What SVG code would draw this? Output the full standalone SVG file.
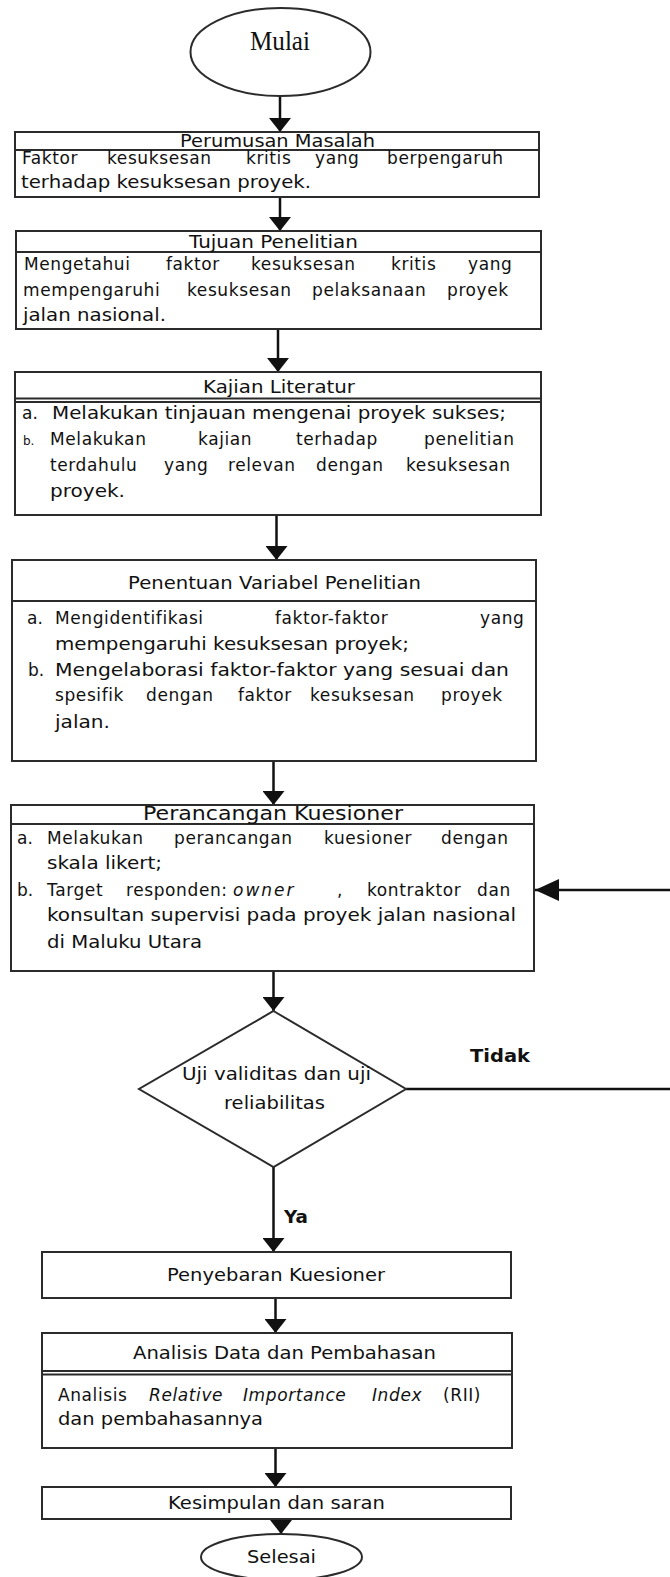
<svg xmlns="http://www.w3.org/2000/svg" width="670" height="1577" viewBox="0 0 670 1577">
<style>
.sh{fill:#fff;stroke:#2b2b2b;stroke-width:2}
.hl{stroke:#2b2b2b;stroke-width:2;fill:none}
.t{font-family:"DejaVu Sans",Verdana,sans-serif;font-size:17px;fill:#111}
.h{font-size:17px;text-anchor:middle}
.j{letter-spacing:0.6px}
.it{font-style:italic}
.bd{font-weight:bold;font-size:17px}
.serif{font-family:"Liberation Serif","Times New Roman",serif;font-size:27px;fill:#111;text-anchor:middle}
.cn line{stroke:#111;stroke-width:2.5}
</style>
<defs>
<marker id="ad" markerUnits="userSpaceOnUse" markerWidth="16" markerHeight="22" refX="14" refY="11" orient="auto"><path d="M0,0 L14,11 L0,22 z" fill="#111"/></marker>
<marker id="al" markerUnits="userSpaceOnUse" markerWidth="26" markerHeight="22" refX="24" refY="11" orient="auto"><path d="M0,0 L24,11 L0,22 z" fill="#111"/></marker>
</defs>
<rect width="670" height="1577" fill="#fff"/>

<g class="cn">
<line x1="280" y1="96" x2="280" y2="132" marker-end="url(#ad)"/>
<line x1="280" y1="197" x2="280" y2="231" marker-end="url(#ad)"/>
<line x1="278" y1="329" x2="278" y2="372" marker-end="url(#ad)"/>
<line x1="276.5" y1="515" x2="276.5" y2="560" marker-end="url(#ad)"/>
<line x1="273.5" y1="761" x2="273.5" y2="805" marker-end="url(#ad)"/>
<line x1="273.5" y1="971" x2="273.5" y2="1011" marker-end="url(#ad)"/>
<line x1="406" y1="1089" x2="670" y2="1089"/>
<line x1="670" y1="890" x2="535" y2="890" marker-end="url(#al)"/>
<line x1="273.5" y1="1167" x2="273.5" y2="1252" marker-end="url(#ad)"/>
<line x1="275.5" y1="1298" x2="275.5" y2="1333" marker-end="url(#ad)"/>
<line x1="275.5" y1="1448" x2="275.5" y2="1487" marker-end="url(#ad)"/>
<line x1="281" y1="1519" x2="281" y2="1534" marker-end="url(#ad)"/>
<text class="t bd" x="470" y="1062" textLength="60" lengthAdjust="spacingAndGlyphs">Tidak</text>
<text class="t bd" x="284" y="1223" textLength="24" lengthAdjust="spacingAndGlyphs">Ya</text>
</g>

<g id="mulai">
<ellipse class="sh" cx="280.5" cy="52" rx="90" ry="44"/>
<text class="serif" x="280" y="50" textLength="60" lengthAdjust="spacingAndGlyphs">Mulai</text>
</g>

<g id="perumusan">
<rect class="sh" x="15" y="132" width="524" height="65"/>
<line class="hl" x1="15" y1="150" x2="539" y2="150" stroke-width="2.5"/>
<text class="t h" x="277.5" y="147" textLength="195" lengthAdjust="spacingAndGlyphs">Perumusan Masalah</text>
<text class="t j" y="164"><tspan x="22">Faktor</tspan><tspan x="107">kesuksesan</tspan><tspan x="246">kritis</tspan><tspan x="315">yang</tspan><tspan x="387">berpengaruh</tspan></text>
<text class="t" x="21" y="188" textLength="290" lengthAdjust="spacingAndGlyphs">terhadap kesuksesan proyek.</text>
</g>

<g id="tujuan">
<rect class="sh" x="16" y="231" width="525" height="98"/>
<line class="hl" x1="16" y1="252" x2="541" y2="252" stroke-width="2.5"/>
<text class="t h" x="273.5" y="248" textLength="169" lengthAdjust="spacingAndGlyphs">Tujuan Penelitian</text>
<text class="t j" y="270"><tspan x="24">Mengetahui</tspan><tspan x="166">faktor</tspan><tspan x="251">kesuksesan</tspan><tspan x="391">kritis</tspan><tspan x="468">yang</tspan></text>
<text class="t j" y="296"><tspan x="23">mempengaruhi</tspan><tspan x="187">kesuksesan</tspan><tspan x="312">pelaksanaan</tspan><tspan x="447">proyek</tspan></text>
<text class="t" x="23" y="321" textLength="143" lengthAdjust="spacingAndGlyphs">jalan nasional.</text>
</g>

<g id="kajian">
<rect class="sh" x="15" y="372" width="526" height="143"/>
<line class="hl" x1="15" y1="398.5" x2="541" y2="398.5" stroke-width="1.5"/>
<line class="hl" x1="15" y1="402" x2="541" y2="402" stroke-width="1.5"/>
<text class="t h" x="279" y="393" textLength="152" lengthAdjust="spacingAndGlyphs">Kajian Literatur</text>
<text class="t" x="22" y="419">a.</text>
<text class="t" x="52" y="419" textLength="454" lengthAdjust="spacingAndGlyphs">Melakukan tinjauan mengenai proyek sukses;</text>
<text class="t" x="23" y="445" style="font-size:12px">b.</text>
<text class="t j" y="445"><tspan x="50">Melakukan</tspan><tspan x="198">kajian</tspan><tspan x="296">terhadap</tspan><tspan x="424">penelitian</tspan></text>
<text class="t j" y="471"><tspan x="50">terdahulu</tspan><tspan x="164">yang</tspan><tspan x="228">relevan</tspan><tspan x="316">dengan</tspan><tspan x="406">kesuksesan</tspan></text>
<text class="t" x="50" y="497" textLength="75" lengthAdjust="spacingAndGlyphs">proyek.</text>
</g>

<g id="penentuan">
<rect class="sh" x="12" y="560" width="524" height="201"/>
<line class="hl" x1="12" y1="601" x2="536" y2="601" stroke-width="2.5"/>
<text class="t h" x="274.5" y="589" textLength="293" lengthAdjust="spacingAndGlyphs">Penentuan Variabel Penelitian</text>
<text class="t" x="27" y="624">a.</text>
<text class="t j" y="624"><tspan x="55">Mengidentifikasi</tspan><tspan x="275">faktor-faktor</tspan><tspan x="480">yang</tspan></text>
<text class="t" x="55" y="650" textLength="354" lengthAdjust="spacingAndGlyphs">mempengaruhi kesuksesan proyek;</text>
<text class="t" x="28" y="676">b.</text>
<text class="t" x="55" y="676" textLength="454" lengthAdjust="spacingAndGlyphs">Mengelaborasi faktor-faktor yang sesuai dan</text>
<text class="t j" y="701"><tspan x="55">spesifik</tspan><tspan x="146">dengan</tspan><tspan x="238">faktor</tspan><tspan x="310">kesuksesan</tspan><tspan x="441">proyek</tspan></text>
<text class="t" x="55" y="728" textLength="55" lengthAdjust="spacingAndGlyphs">jalan.</text>
</g>

<g id="perancangan">
<rect class="sh" x="11" y="805" width="523" height="166"/>
<line class="hl" x1="11" y1="824" x2="534" y2="824" stroke-width="2.5"/>
<text class="t h" x="273" y="820" style="font-size:19px" textLength="260" lengthAdjust="spacingAndGlyphs">Perancangan Kuesioner</text>
<text class="t" x="17" y="844">a.</text>
<text class="t j" y="844"><tspan x="47">Melakukan</tspan><tspan x="174">perancangan</tspan><tspan x="324">kuesioner</tspan><tspan x="441">dengan</tspan></text>
<text class="t" x="47" y="869" textLength="115" lengthAdjust="spacingAndGlyphs">skala likert;</text>
<text class="t" x="17" y="896">b.</text>
<text class="t j" y="896"><tspan x="47">Target</tspan><tspan x="126">responden:</tspan><tspan x="233" class="it" style="letter-spacing:2px">owner</tspan><tspan x="337">,</tspan><tspan x="367">kontraktor</tspan><tspan x="477">dan</tspan></text>
<text class="t" x="47" y="921" textLength="469" lengthAdjust="spacingAndGlyphs">konsultan supervisi pada proyek jalan nasional</text>
<text class="t" x="47" y="948" textLength="155" lengthAdjust="spacingAndGlyphs">di Maluku Utara</text>
</g>

<g id="uji">
<polygon class="sh" points="273.5,1011 406,1089 273.5,1167 139,1089"/>
<text class="t h" x="276.5" y="1080" textLength="189" lengthAdjust="spacingAndGlyphs">Uji validitas dan uji</text>
<text class="t h" x="274.5" y="1109" textLength="101" lengthAdjust="spacingAndGlyphs">reliabilitas</text>
</g>

<g id="penyebaran">
<rect class="sh" x="42" y="1252" width="469" height="46"/>
<text class="t h" x="276" y="1281" textLength="218" lengthAdjust="spacingAndGlyphs">Penyebaran Kuesioner</text>
</g>

<g id="analisis">
<rect class="sh" x="42" y="1333" width="470" height="115"/>
<line class="hl" x1="42" y1="1371" x2="512" y2="1371" stroke-width="1.5"/>
<line class="hl" x1="42" y1="1374.5" x2="512" y2="1374.5" stroke-width="1.5"/>
<text class="t h" x="284.5" y="1359" textLength="303" lengthAdjust="spacingAndGlyphs">Analisis Data dan Pembahasan</text>
<text class="t j" y="1401"><tspan x="58">Analisis</tspan><tspan x="149" class="it">Relative</tspan><tspan x="243" class="it">Importance</tspan><tspan x="372" class="it">Index</tspan><tspan x="443">(RII)</tspan></text>
<text class="t" x="58" y="1425" textLength="205" lengthAdjust="spacingAndGlyphs">dan pembahasannya</text>
</g>

<g id="kesimpulan">
<rect class="sh" x="42" y="1487" width="469" height="32"/>
<text class="t h" x="276.5" y="1509" textLength="217" lengthAdjust="spacingAndGlyphs">Kesimpulan dan saran</text>
</g>

<g id="selesai">
<ellipse class="sh" cx="281.5" cy="1557" rx="80.5" ry="23"/>
<text class="t h" x="281.5" y="1563" style="font-size:18px" textLength="69" lengthAdjust="spacingAndGlyphs">Selesai</text>
</g>
</svg>
